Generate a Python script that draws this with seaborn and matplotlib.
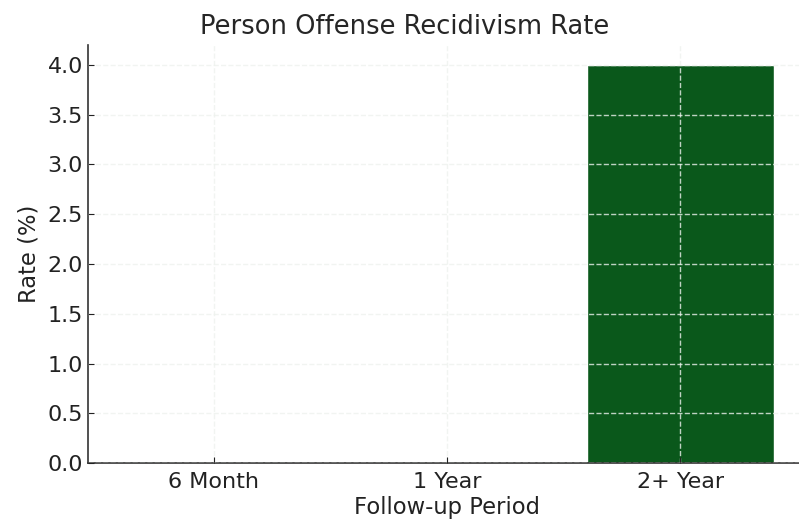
import matplotlib
matplotlib.use("Agg")
import matplotlib.pyplot as plt
import pandas as pd
import seaborn as sns

periods = ["6 Month", "1 Year", "2+ Year"]
rates = [0.0, 0.0, 4.0]

sns.set_style("ticks")
plt.rcParams['font.family'] = ['DejaVu Sans']

df = pd.DataFrame({"Follow-up Period": periods, "Rate (%)": rates})

fig = plt.figure(figsize=(7.99, 5.27), dpi=100)
ax = fig.add_axes([0.110, 0.121, 0.899, 0.794])
sns.barplot(data=df, x="Follow-up Period", y="Rate (%)", color="#0a581b",
            saturation=1, width=0.8, ax=ax)

ax.set_title("Person Offense Recidivism Rate", fontsize=18.5, pad=8, x=0.441)
ax.set_xlabel("Follow-up Period", fontsize=16.3, labelpad=3, color='#222222')
ax.set_ylabel("Rate (%)", fontsize=16.3, labelpad=5, color='#222222')
ax.tick_params(axis='both', labelsize=16, direction='in', length=4, width=0.8, colors='#222222')
ax.tick_params(axis='x', pad=6)
ax.set_xlim(-0.54, 2.54)
ax.set_ylim(0, 4.2)
ax.set_yticks([0, 0.5, 1.0, 1.5, 2.0, 2.5, 3.0, 3.5, 4.0])

ax.set_axisbelow(False)
ax.grid(True, color='#eef2ee', linestyle='--', linewidth=1.0, alpha=0.8)
for side in ['top', 'right']:
    ax.spines[side].set_visible(False)
for side in ['left', 'bottom']:
    ax.spines[side].set_color('#333333')
    ax.spines[side].set_linewidth(1.2)

fig.savefig("out.png", dpi=100)
